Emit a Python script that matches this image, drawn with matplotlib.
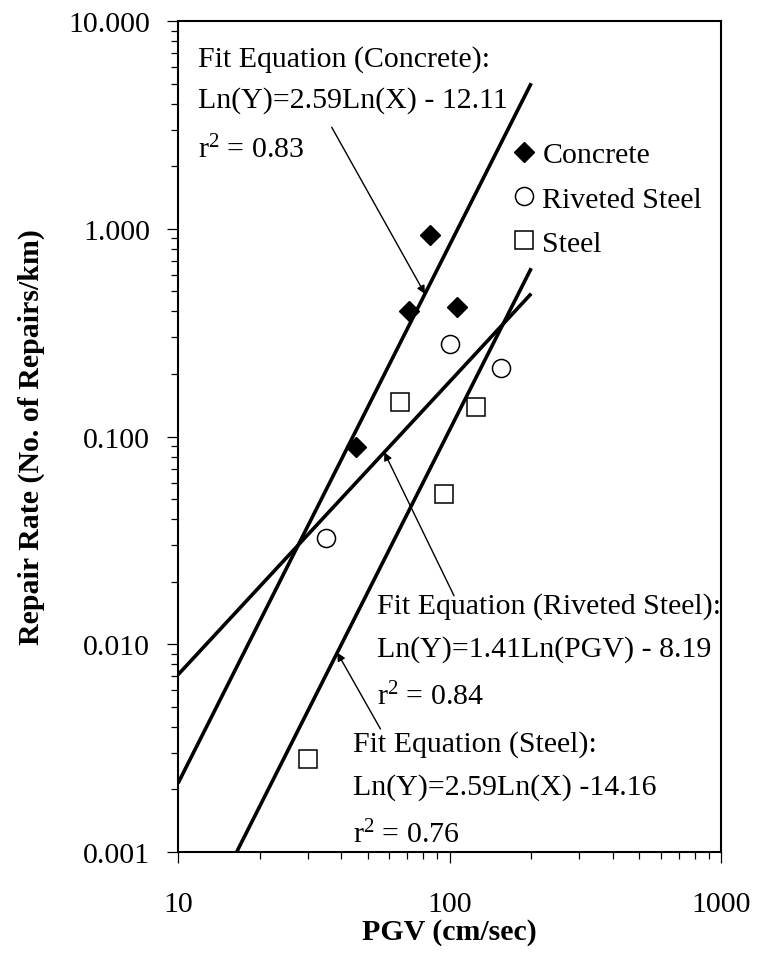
import numpy as np
import matplotlib
matplotlib.use("Agg")
import matplotlib.pyplot as plt
from matplotlib.ticker import LogLocator, FixedLocator, FuncFormatter, NullFormatter

plt.rcParams["font.family"] = ["Liberation Serif", "DejaVu Serif"]
plt.rcParams["mathtext.fontset"] = "custom"
plt.rcParams["mathtext.rm"] = "Liberation Serif"
plt.rcParams["mathtext.default"] = "regular"

# Observed repair rates (repairs/km) versus PGV (cm/sec)
concrete_pgv = [45.4, 70.8, 85.1, 106.8]
concrete_rate = [0.089, 0.403, 0.935, 0.419]

riveted_pgv = [35.0, 100.3, 155.1]
riveted_rate = [0.0325, 0.279, 0.214]

steel_pgv = [30.0, 65.5, 95.6, 125.4]
steel_rate = [0.0028, 0.147, 0.0529, 0.138]

# Power-law fits: Ln(Y) = slope * Ln(PGV) + intercept
fit_names = ["Concrete", "Riveted Steel", "Steel"]
fit_slope = [2.59, 1.41, 2.59]
fit_intercept = [-12.11, -8.19, -14.16]
fit_r2 = [0.83, 0.84, 0.76]
fit_pgv_max = [200.0, 200.0, 200.0]

x_ticks = [10, 100, 1000]
y_ticks = [0.001, 0.01, 0.1, 1.0, 10.0]

FS = 21.5

fig = plt.figure(figsize=(7.57, 9.54), dpi=100)
ax = fig.add_axes([178 / 757, 101 / 954, 543 / 757, 831 / 954])
ax.set_xscale("log")
ax.set_yscale("log")
ax.set_xlim(10, 1000)
ax.set_ylim(0.001, 10)


def fit_curve(slope, intercept, x):
    return np.exp(slope * np.log(x) + intercept)


# fitted lines, clipped to the plotted y range
for slope, intercept, xmax in zip(fit_slope, fit_intercept, fit_pgv_max):
    xmin = max(10.0, float(np.exp((np.log(0.001) - intercept) / slope)))
    xs = np.geomspace(xmin, xmax, 200)
    ax.plot(xs, fit_curve(slope, intercept, xs), color="black", lw=2.6,
            solid_capstyle="butt", zorder=2)

ax.plot(concrete_pgv, concrete_rate, linestyle="none", marker="D", ms=10.2,
        mfc="black", mec="black", mew=1.0, label="Concrete", zorder=3)
ax.plot(riveted_pgv, riveted_rate, linestyle="none", marker="o", ms=13,
        mfc="white", mec="black", mew=1.1, label="Riveted Steel", zorder=3)
ax.plot(steel_pgv, steel_rate, linestyle="none", marker="s", ms=13,
        mfc="white", mec="black", mew=1.1, label="Steel", zorder=3)

leg = ax.legend(loc="upper left", bbox_to_anchor=(0.6124, 0.855), frameon=False,
                fontsize=FS, handlelength=0.9, handletextpad=0.17,
                labelspacing=0.58, borderaxespad=0, borderpad=0)

# equation annotations: (text x, line baselines, arrow start, arrow pgv)
notes = [
    (0.0368, [0.9462, 0.8965, 0.8363], (0.2831, 0.8721), 81.2),
    (0.3665, [0.2884, 0.2362, 0.1781], (0.5083, 0.3084), 57.5),
    (0.3223, [0.1219, 0.0698, 0.0117], (0.3729, 0.1480), 38.6),
]
equations = [
    "Ln(Y)=2.59Ln(X) - 12.11",
    "Ln(Y)=1.41Ln(PGV) - 8.19",
    "Ln(Y)=2.59Ln(X) -14.16",
]
for i, (tx, ys, start, xpt) in enumerate(notes):
    lines = [f"Fit Equation ({fit_names[i]}):", equations[i],
             f"r$^{{2}}$ = {fit_r2[i]:.2f}"]
    for txt, ty in zip(lines, ys):
        ax.text(tx, ty, txt, transform=ax.transAxes, fontsize=FS,
                ha="left", va="baseline", zorder=4)
    ypt = fit_curve(fit_slope[i], fit_intercept[i], xpt)
    ax.annotate("", xy=(xpt, ypt), xycoords="data",
                xytext=start, textcoords="axes fraction",
                arrowprops=dict(arrowstyle="-|>", color="black", lw=1.0,
                                mutation_scale=12, shrinkA=0, shrinkB=0),
                zorder=4)

# axes, ticks and labels
for sp in ax.spines.values():
    sp.set_linewidth(1.5)

ax.xaxis.set_major_locator(FixedLocator(x_ticks))
ax.yaxis.set_major_locator(FixedLocator(y_ticks))
ax.xaxis.set_minor_locator(LogLocator(base=10, subs=np.arange(2, 10), numticks=20))
ax.yaxis.set_minor_locator(LogLocator(base=10, subs=np.arange(2, 10), numticks=20))
ax.xaxis.set_minor_formatter(NullFormatter())
ax.yaxis.set_minor_formatter(NullFormatter())
ax.xaxis.set_major_formatter(FuncFormatter(lambda v, p: f"{v:g}"))
ax.yaxis.set_major_formatter(FuncFormatter(lambda v, p: f"{v:.3f}"))

ax.tick_params(which="major", direction="out", length=8, width=0.9,
               labelsize=FS)
ax.tick_params(which="minor", direction="out", length=5, width=0.9)
ax.tick_params(axis="y", which="major", pad=12)
ax.tick_params(axis="x", which="major", pad=20)

ax.set_xlabel("PGV (cm/sec)", fontsize=FS, fontweight="bold")
ax.set_ylabel("Repair Rate (No. of Repairs/km)", fontsize=FS, fontweight="bold")
ax.xaxis.set_label_coords(0.5, -0.079)
ax.yaxis.set_label_coords(-0.245, 0.5)

fig.savefig("out.png", dpi=100)
